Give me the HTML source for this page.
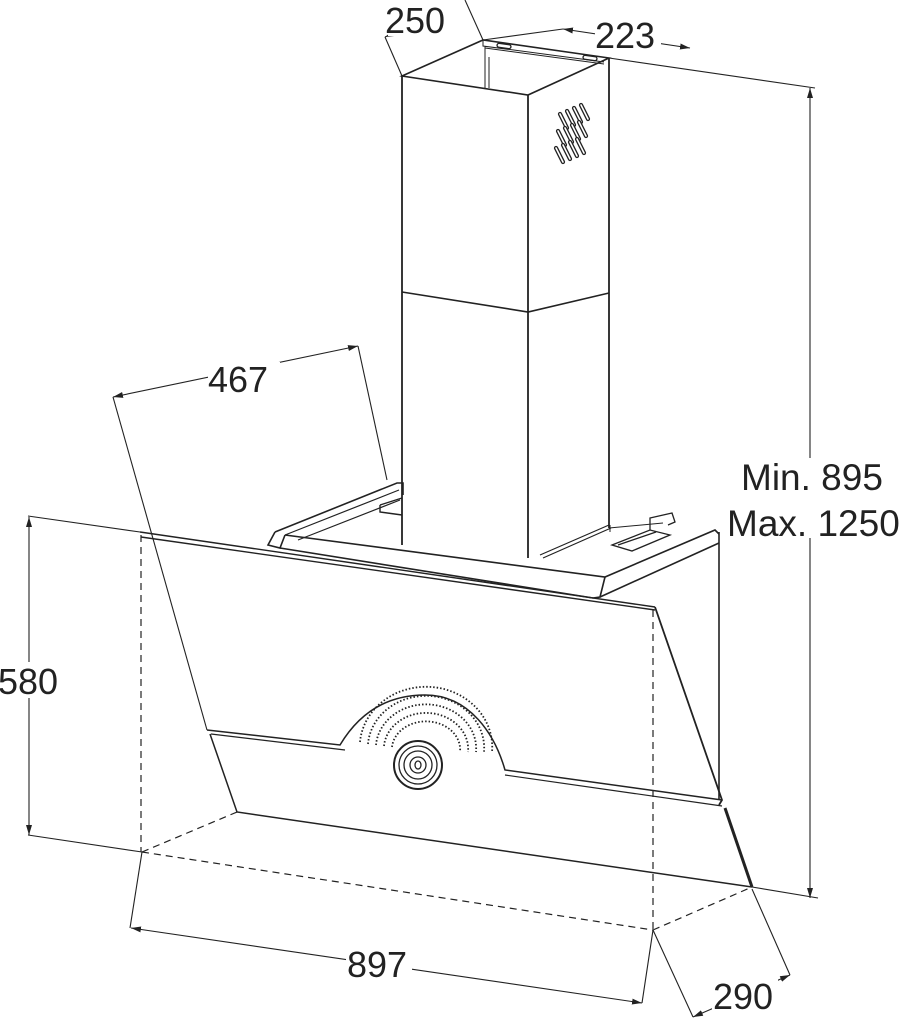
<!DOCTYPE html>
<html><head><style>
html,body{margin:0;padding:0;background:#fff;}
svg{display:block;}
text{font-family:"Liberation Sans",Arial,sans-serif;fill:#222;}
</style></head><body>
<svg width="900" height="1019" viewBox="0 0 900 1019" xmlns="http://www.w3.org/2000/svg">
<defs>
<marker id="a" viewBox="0 0 10 6" refX="10" refY="3" markerWidth="10" markerHeight="6" orient="auto-start-reverse" markerUnits="userSpaceOnUse">
<path d="M0,0 L10,3 L0,6 z" fill="#222"/></marker>
<g id="slot"><line x1="0" y1="0" x2="7" y2="14" stroke="#222" stroke-width="4.2" stroke-linecap="round"/><line x1="0" y1="0" x2="7" y2="14" stroke="#fff" stroke-width="1.6" stroke-linecap="round"/></g>
</defs>
<g stroke="#222" fill="none" stroke-width="1.3">
<!-- chimney -->
<path d="M402,76 L483,40 L609,58 L528,95 Z" stroke-width="1.6"/>
<line x1="402" y1="76" x2="402" y2="545" stroke-width="1.8"/>
<line x1="528" y1="95" x2="528" y2="558" stroke-width="1.8"/>
<line x1="609" y1="58" x2="609" y2="528" stroke-width="1.8"/>
<path d="M402,292 L528,312 L609,293" stroke-width="1.6"/>
<path d="M483,40 L483,46 L604,62 M485,46 L485,88 M489,57 L489,88 M485,48 L604,64" stroke-width="1"/>
<rect x="497" y="44" width="14" height="4" rx="2" transform="rotate(8 504 46)"/>
<rect x="583" y="56" width="14" height="4" rx="2" transform="rotate(8 590 58)"/>
<!-- frame rails -->
<path d="M275,532 L397,483 L403,483 L403,495" stroke-width="1.6"/>
<path d="M285,535 L399,490 M298,540 L400,500" stroke-width="1.2"/>
<path d="M275,532 L268,545 L280,548 L285,535" stroke-width="1.6"/>
<path d="M285,535 L605,577 L715,530 L719,534" stroke-width="1.6"/>
<path d="M280,548 L593,598 L600,597 L605,577" stroke-width="1.6"/>
<path d="M600,597 L719,543" stroke-width="1.6"/>
<path d="M380,505 L402,498 M380,505 L380,512 L402,515" stroke-width="1.4"/>
<path d="M540,555 L609,525 M543,558 L611,528" stroke-width="1.2"/>
<path d="M610,532 L610,525 M609,528 L663,523" stroke-width="1"/>
<path d="M612,545 L650,530 L670,535 L632,551 Z M618,545 L656,532" stroke-width="1.3"/>
<path d="M650,530 L650,518 L672,513 L675,522 L668,525" stroke-width="1.3"/>
<line x1="719" y1="532" x2="719" y2="800" stroke-width="1.6"/>
<!-- glass upper -->
<path d="M140,532 L655,607 M141,537 L655,610" stroke-width="1.4"/>
<path d="M655,607 L722,800 L719,805" stroke-width="1.8"/>
<!-- band -->
<path d="M207,730 L340,745 C355,720 380,695 425,695 C470,695 495,735 505,770 L722,800" stroke-width="1.5"/>
<path d="M211,734 L345,750 M505,775 L722,806" stroke-width="1.2"/>
<!-- fan half -->
<g stroke-width="1.8" stroke-dasharray="1.5 2">
<path d="M360,742 A66,60 0 0 1 492,752"/>
<path d="M368,744 A58,52 0 0 1 484,752"/>
<path d="M376,745 A50,44 0 0 1 476,752"/>
<path d="M384,746 A42,36 0 0 1 468,752"/>
<path d="M392,747 A34,28 0 0 1 460,752"/>
</g>
<circle cx="418" cy="765" r="24" fill="#fff" stroke-width="2"/>
<circle cx="418" cy="765" r="19"/>
<circle cx="418" cy="765" r="14"/>
<circle cx="418" cy="765" r="8"/>
<ellipse cx="418" cy="765" rx="3" ry="4"/>
<!-- lower glass -->
<path d="M210,734 L237,812 L752,887" stroke-width="1.5"/>
<path d="M725,808 L752,887" stroke-width="3"/>
<line x1="752" y1="887" x2="818" y2="898" stroke-width="1.1"/>
<!-- dashed hidden -->
<g stroke-dasharray="7 5" stroke-width="1.2">
<line x1="141" y1="535" x2="141" y2="852"/>
<line x1="142" y1="852" x2="237" y2="812"/>
<line x1="142" y1="852" x2="653" y2="930"/>
<line x1="653" y1="930" x2="752" y2="887"/>
<line x1="653" y1="610" x2="653" y2="930"/>
</g>
<!-- dimension lines -->
<g stroke-width="1.1">
<line x1="113" y1="397" x2="207" y2="730"/>
<line x1="358" y1="346" x2="387" y2="480"/>
<line x1="113" y1="397" x2="358" y2="346" marker-start="url(#a)" marker-end="url(#a)"/>
<line x1="28" y1="516" x2="140" y2="532"/>
<line x1="28" y1="835" x2="142" y2="852"/>
<line x1="29" y1="517" x2="29" y2="835" marker-start="url(#a)" marker-end="url(#a)"/>
<line x1="142" y1="852" x2="130" y2="928"/>
<line x1="653" y1="930" x2="642" y2="1003"/>
<line x1="131" y1="928" x2="642" y2="1003" marker-start="url(#a)" marker-end="url(#a)"/>
<line x1="653" y1="930" x2="693" y2="1017"/>
<line x1="752" y1="889" x2="790" y2="975"/>
<line x1="693" y1="1017" x2="790" y2="975" marker-start="url(#a)" marker-end="url(#a)"/>
<line x1="609" y1="58" x2="815" y2="88"/>
<line x1="810" y1="88" x2="810" y2="898" marker-start="url(#a)" marker-end="url(#a)"/>
<line x1="402" y1="76" x2="385" y2="37"/>
<line x1="483" y1="40" x2="465" y2="0"/>
<line x1="385" y1="37" x2="463" y2="4" marker-start="url(#a)" marker-end="url(#a)"/>
<line x1="483" y1="40" x2="563" y2="29"/>
<line x1="563" y1="29" x2="690" y2="48" marker-start="url(#a)" marker-end="url(#a)"/>
</g>
</g>
<!-- vent slots -->
<use href="#slot" x="560" y="114"/><use href="#slot" x="567" y="111"/><use href="#slot" x="574" y="108"/><use href="#slot" x="581" y="105"/>
<use href="#slot" x="558" y="131"/><use href="#slot" x="565" y="128"/><use href="#slot" x="572" y="125"/><use href="#slot" x="579" y="122"/>
<use href="#slot" x="556" y="148"/><use href="#slot" x="563" y="145"/><use href="#slot" x="570" y="142"/><use href="#slot" x="577" y="139"/>
<g font-size="36">
<rect x="388" y="2" width="76" height="34" fill="#fff"/>
<text x="385" y="33">250</text>
<rect x="595" y="18" width="66" height="32" fill="#fff"/>
<text x="595" y="48">223</text>
<rect x="208" y="362" width="72" height="32" fill="#fff"/>
<text x="208" y="392">467</text>
<rect x="0" y="662" width="68" height="36" fill="#fff"/>
<text x="-2" y="694">580</text>
<rect x="346" y="945" width="66" height="34" fill="#fff"/>
<text x="347" y="977">897</text>
<rect x="712" y="978" width="66" height="34" fill="#fff"/>
<text x="713" y="1009">290</text>
<rect x="738" y="458" width="150" height="80" fill="#fff"/>
<text x="741" y="490" font-size="37">Min. 895</text>
<text x="727" y="536" font-size="37">Max. 1250</text>
</g>
</svg>
</body></html>
